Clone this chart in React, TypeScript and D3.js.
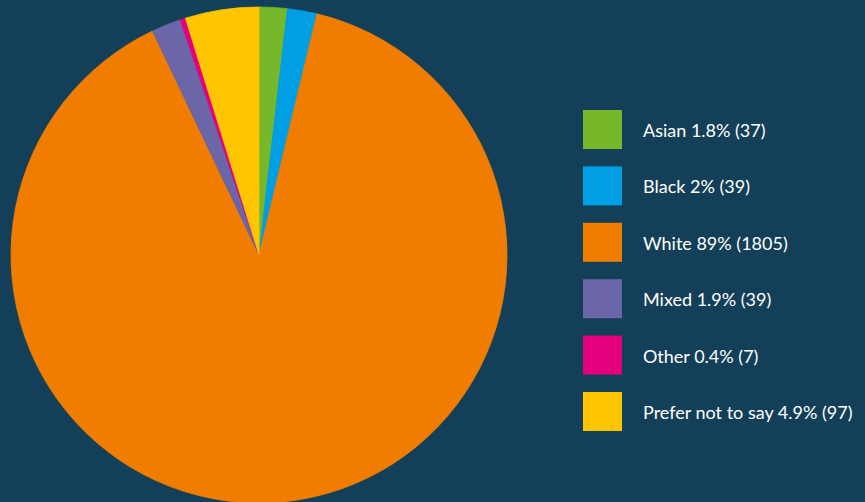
import React from "react";
import * as d3 from "d3";

const categories = ["Asian", "Black", "White", "Mixed", "Other", "Prefer not to say"];
const values = [37, 39, 1805, 39, 7, 97];
const percentLabels = ["1.8%", "2%", "89%", "1.9%", "0.4%", "4.9%"];
const colors = ["#76b82a", "#009fe3", "#f07d00", "#6a66a8", "#e5007e", "#ffc600"];

const W = 865;
const H = 502;

export default function App() {
  const cx = 259;
  const cy = 255;
  const r = 248;
  const data = categories.map((c, i) => ({ c, v: values[i], p: percentLabels[i], col: colors[i] }));
  const pie = d3.pie<any>().value((d) => d.v).sort(null);
  const arcs = pie(data);
  const arc = d3.arc<any>().innerRadius(0).outerRadius(r);
  const legendY = d3.scaleLinear().domain([0, categories.length - 1]).range([110, 392]);
  return (
    <div style={{ position: "fixed", left: 0, top: 0, width: W, height: H }}>
      <svg width={W} height={H} style={{ display: "block", background: "#134058" }}>
        <rect width={W} height={H} fill="#134058" />
        <g transform={`translate(${cx},${cy})`}>
          {arcs.map((a, i) => (
            <path key={i} d={arc(a) || ""} fill={a.data.col} stroke={a.data.col} strokeWidth={0.8} />
          ))}
        </g>
        {data.map((d, i) => (
          <g key={i} transform={`translate(583,${legendY(i)})`}>
            <rect width={39} height={39} fill={d.col} />
            <text x={60} y={27} fill="#ffffff" fontFamily="Lato, sans-serif" fontSize={18}>
              {`${d.c} ${d.p} (${d.v})`}
            </text>
          </g>
        ))}
      </svg>
    </div>
  );
}
